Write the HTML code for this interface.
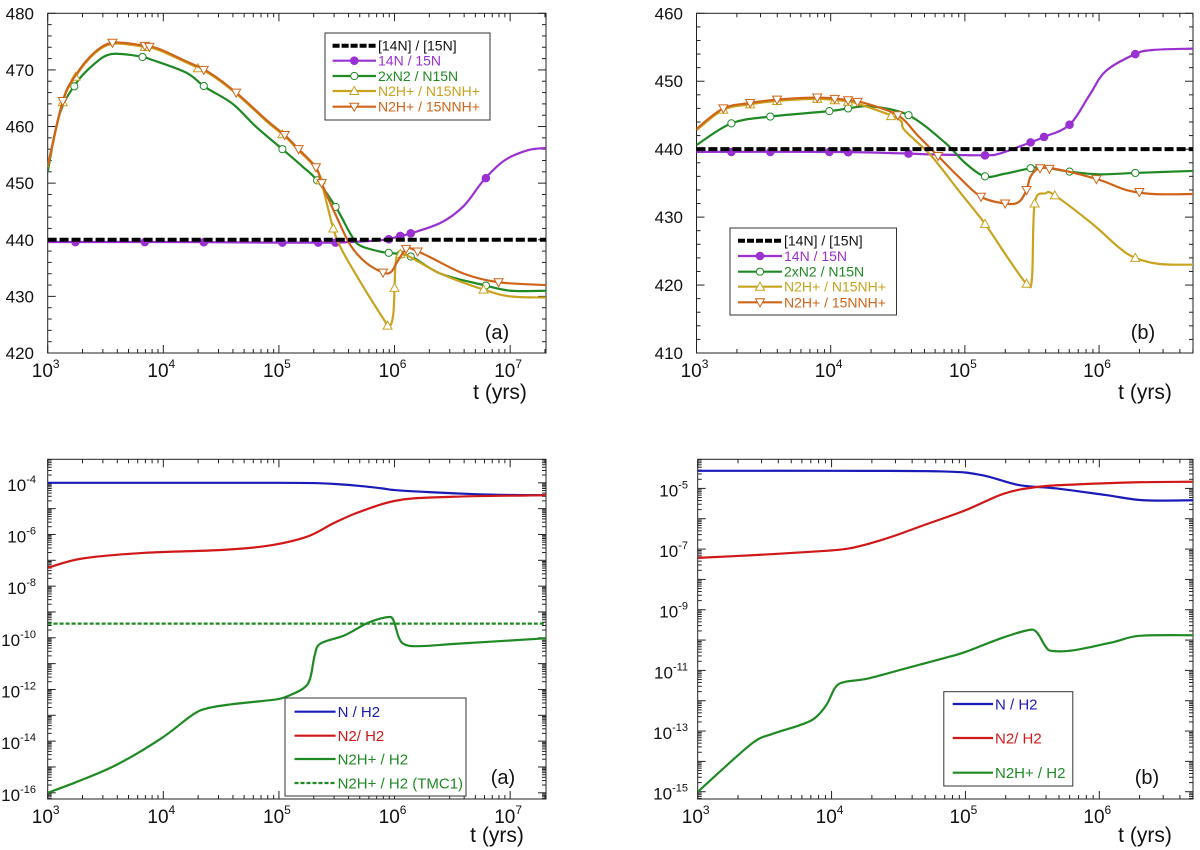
<!DOCTYPE html>
<html><head><meta charset="utf-8"><style>
html,body{margin:0;padding:0;background:#fff;}
svg{display:block;font-family:"Liberation Sans",Arial,sans-serif;}
</style></head><body>
<svg id="fig" width="1200" height="850" viewBox="0 0 1200 850" xmlns="http://www.w3.org/2000/svg"></svg>
<script>
// ---------- DATA (log10 t in years, values) ----------
// Panel a (top-left)
const aRefT=[3,7.31]; const aRefV=[440,440];
const aPurpleT=[3,4,5,5.3,5.5,5.8,5.95,6.03,6.12,6.4,6.6,6.77,6.95,7.15,7.31];
const aPurpleV=[439.6,439.6,439.5,439.5,439.5,439.8,440.1,440.6,441,443,446,450.5,454,455.8,456.2];
const aPurpleM=[3.24,3.84,4.35,5.03,5.34,5.49,5.95,6.05,6.14,6.79];
const aGreenT=[3,3.1,3.24,3.4,3.55,3.8,3.9,4.2,4.36,4.6,4.8,5.03,5.2,5.33,5.5,5.62,5.7,5.9,6.0,6.05,6.15,6.4,6.77,7.0,7.31];
const aGreenV=[452,462,467.5,471,472.8,472.4,471.8,469.5,467,464,460,456,453,450.5,445.5,441,439,437.8,437.6,437.4,437,434,432,431,431];
const aGreenM=[3.23,3.82,4.35,5.03,5.33,5.49,5.95,6.05,6.14,6.79];
const aOrangeT=[3,3.13,3.24,3.4,3.56,3.8,3.95,4.2,4.4,4.63,4.9,5.05,5.17,5.32,5.37,5.5,5.62,5.75,5.9,5.97,6.02,6.1,6.15,6.3,6.6,6.9,7.31];
const aOrangeV=[453,464.5,469,473,474.8,474.4,473.8,471.5,469.5,466,461,458.5,456,452.8,450,444,439,436,434.2,434.3,436,438.4,438.4,437,434,432.5,432];
const aOrangeM=[3.13,3.56,3.84,3.88,4.35,4.63,5.05,5.17,5.32,5.37,5.9,6.1,6.2,6.9];
const aYellowT=[3,3.13,3.24,3.4,3.56,3.8,3.95,4.2,4.4,4.63,4.9,5.05,5.17,5.32,5.37,5.47,5.55,5.75,5.92,5.95,5.99,6.01,6.05,6.13,6.4,6.77,7.0,7.31];
const aYellowV=[452.8,464.3,468.8,472.8,474.6,474.2,473.6,471.3,469.3,465.8,460.8,458.3,455.8,452.6,450,442,438,431,425.5,424.5,427,436,437.5,437,434,431.2,430,429.8];
const aYellowM=[3.13,3.24,3.84,4.3,5.03,5.36,5.47,5.94,6.0,6.05,6.77];
// Panel b (top-right)
const bRefT=[3,6.7]; const bRefV=[440,440];
const bPurpleT=[3,4,4.5,4.8,5.15,5.25,5.38,5.49,5.59,5.78,5.93,6.05,6.27,6.4,6.7];
const bPurpleV=[439.6,439.6,439.4,439.2,439.1,439.3,440.2,441,441.8,443.6,448,451.5,454,454.6,454.8];
const bPurpleM=[3.26,3.55,3.99,4.13,4.58,5.15,5.49,5.59,5.78,6.27];
const bGreenT=[3,3.26,3.55,3.99,4.13,4.3,4.58,4.85,5.0,5.15,5.3,5.49,5.59,5.78,6.0,6.27,6.7];
const bGreenV=[440.6,443.8,444.8,445.6,446,446.3,445,441,438,436,436.4,437.2,437.3,436.7,436.3,436.5,436.8];
const bGreenM=[3.26,3.55,3.99,4.13,4.58,5.15,5.49,5.78,6.27];
const bOrangeT=[3,3.2,3.4,3.6,3.9,4.1,4.25,4.5,4.65,4.8,4.95,5.12,5.3,5.4,5.46,5.49,5.56,5.7,6.0,6.2,6.4,6.7];
const bOrangeV=[443,446,446.8,447.3,447.6,447.3,446.8,445,442,439,436,433,432,432.2,434,436,437.2,437,435.5,434,433.4,433.4];
const bOrangeM=[3.2,3.4,3.6,3.9,4.03,4.13,4.2,4.5,4.8,5.12,5.3,5.46,5.56,5.63,5.98,6.3];
const bYellowT=[3,3.2,3.4,3.6,3.9,4.1,4.2,4.5,4.55,4.75,4.95,5.15,5.32,5.46,5.5,5.52,5.6,5.67,5.95,6.15,6.27,6.45,6.7];
const bYellowV=[442.8,445.8,446.6,447.1,447.4,447.1,446.7,444.5,442.8,439,434,429,424,420.2,421,432,433.5,433.2,429,425.5,424,423.1,423];
const bYellowM=[3.2,3.4,3.6,3.9,4.03,4.13,4.45,5.15,5.46,5.52,5.67,6.27];
// Panel c (bottom-left) log10 abundances
const cBlueT=[3,4,5,5.3,5.5,5.7,5.9,6.0,6.3,6.7,7.0,7.31];
const cBlueV=[-4,-4,-4,-4.01,-4.05,-4.12,-4.22,-4.28,-4.36,-4.44,-4.47,-4.48];
const cRedT=[3,3.3,3.84,4.5,4.9,5.24,5.47,5.7,6.04,6.5,7.31];
const cRedV=[-7.29,-6.93,-6.71,-6.6,-6.44,-6.09,-5.57,-5.12,-4.67,-4.54,-4.48];
const cGreenT=[3,3.25,3.59,3.98,4.25,4.38,4.58,4.91,5.04,5.21,5.27,5.31,5.36,5.57,5.77,5.94,5.99,6.04,6.1,6.24,6.57,7.31];
const cGreenV=[-16,-15.58,-14.93,-13.9,-12.99,-12.73,-12.58,-12.42,-12.32,-11.96,-11.57,-10.67,-10.22,-9.9,-9.42,-9.2,-9.32,-10.02,-10.28,-10.32,-10.22,-10.02];
const cTmcT=[3,7.31]; const cTmcV=[-9.45,-9.45];
// Panel d (bottom-right)
const dBlueT=[3,4,4.83,5.12,5.4,5.68,6.05,6.33,6.7];
const dBlueV=[-4.42,-4.42,-4.44,-4.56,-4.89,-5.0,-5.22,-5.39,-5.39];
const dRedT=[3,3.42,3.84,4.13,4.41,4.69,5.0,5.29,5.54,5.82,6.25,6.7];
const dRedV=[-7.29,-7.2,-7.09,-6.98,-6.65,-6.21,-5.72,-5.17,-4.95,-4.87,-4.8,-4.78];
const dGreenT=[3,3.19,3.42,3.56,3.76,3.87,3.96,4.03,4.1,4.27,4.55,4.83,5.0,5.26,5.46,5.53,5.6,5.65,5.82,6.11,6.3,6.7];
const dGreenV=[-15.01,-14.24,-13.36,-13.09,-12.81,-12.59,-12.15,-11.55,-11.38,-11.27,-10.94,-10.61,-10.39,-9.95,-9.68,-9.73,-10.22,-10.36,-10.33,-10.06,-9.86,-9.84];
// Tick labels
const xExpA=[3,4,5,6,7]; const xExpB=[3,4,5,6];
const yTicksA=[420,430,440,450,460,470,480];
const yTicksB=[410,420,430,440,450,460];
const yExpC=[-16,-14,-12,-10,-8,-6,-4];
const yExpD=[-15,-13,-11,-9,-7,-5];

// ---------- drawing ----------
const NS="http://www.w3.org/2000/svg";
const svg=document.getElementById('fig');
function el(tag,attrs,parent){const e=document.createElementNS(NS,tag);for(const k in attrs)e.setAttribute(k,attrs[k]);(parent||svg).appendChild(e);return e;}
const C={purple:'#9a30d2',green:'#1f8a24',yellow:'#c9a31f',orange:'#cf6418',blue:'#1a1ab8',red:'#d01818',black:'#000'};

function makePanel(p){
  p.sx=t=>p.x0+(t-p.t0)/(p.t1-p.t0)*(p.x1-p.x0);
  p.sy=v=>p.y1-(v-p.v0)/(p.v1-p.v0)*(p.y1-p.y0);
  const g=el('g',{});
  
  
  p.g=g;
  const cp=el('clipPath',{id:'clip-'+p.name},g);
  el('rect',{x:p.x0,y:p.y0,width:p.x1-p.x0,height:p.y1-p.y0},cp);
  const tk=el('g',{stroke:'#222','stroke-width':1},g);
  
  
  for(let d=Math.floor(p.t0);d<=p.t1;d++){
    for(let m=1;m<10;m++){
      const t=d+Math.log10(m); if(t<p.t0-1e-9||t>p.t1+1e-9)continue;
      const X=p.sx(t); const L=m===1?8:4;
      el('line',{x1:X,x2:X,y1:p.y1,y2:p.y1-L},tk);
      el('line',{x1:X,x2:X,y1:p.y0,y2:p.y0+L},tk);
    }
  }
  if(p.logy){
    for(let d=Math.floor(p.v0);d<=p.v1;d++){
      for(let m=1;m<10;m++){
        const v=d+Math.log10(m); if(v<p.v0||v>p.v1)continue;
        const Y=p.sy(v); const L=m===1?8:4;
        el('line',{x1:p.x0,x2:p.x0+L,y1:Y,y2:Y},tk);
        el('line',{x1:p.x1,x2:p.x1-L,y1:Y,y2:Y},tk);
      }
    }
  } else {
    for(let v=p.v0;v<=p.v1+1e-9;v+=2){
      const Y=p.sy(v); const L=(v%10===0)?8:4;
      el('line',{x1:p.x0,x2:p.x0+L,y1:Y,y2:Y},tk);
      el('line',{x1:p.x1,x2:p.x1-L,y1:Y,y2:Y},tk);
    }
  }
  const fr=el('rect',{x:p.x0,y:p.y0,width:p.x1-p.x0,height:p.y1-p.y0,fill:'none',stroke:'#222','stroke-width':1},g);
  
  
  p.xExp.forEach(e=>{
    const t=el('text',{x:p.sx(e)-2,y:p.y1+24,'font-size':19,'text-anchor':'middle',fill:'#111'},g);
    
    
    t.appendChild(document.createTextNode('10'));
    const s=el('tspan',{dy:-9,'font-size':12},t); s.textContent=String(e);
  });
  if(p.logy){
    p.yExp.forEach(e=>{
      const t=el('text',{x:p.ylabX,y:p.sy(e)+8,'font-size':17,'text-anchor':'end',fill:'#111'},g);
      
      
      t.appendChild(document.createTextNode('10'));
      const s=el('tspan',{dy:-8,'font-size':11},t); s.textContent=String(e);
    });
  } else {
    p.yTicks.forEach(v=>{
      const t=el('text',{x:p.ylabX,y:p.sy(v)+6,'font-size':17,'text-anchor':'end',fill:'#111'},g);
      
      
      t.textContent=String(v);
    });
  }
  const xt=el('text',{x:p.xtX,y:p.y1+p.xtDy,'font-size':21,'text-anchor':'middle',fill:'#111'},g);
  
  
  xt.textContent='t (yrs)';
  const pl=el('text',{x:p.plX,y:p.plY,'font-size':20,'text-anchor':'middle',fill:'#111'},g);
  
  
  pl.textContent=p.label;
  p.plot=el('g',{'clip-path':'url(#clip-'+p.name+')'},g);
  return p;
}

function pathD(pts){
  let d='M'+pts[0][0].toFixed(2)+','+pts[0][1].toFixed(2);
  for(let i=0;i<pts.length-1;i++){
    const p0=pts[i-1]||pts[i],p1=pts[i],p2=pts[i+1],p3=pts[i+2]||pts[i+1];
    const k=1/6;
    const c1=[p1[0]+(p2[0]-p0[0])*k,p1[1]+(p2[1]-p0[1])*k];
    const c2=[p2[0]-(p3[0]-p1[0])*k,p2[1]-(p3[1]-p1[1])*k];
    d+=' C'+c1.map(v=>v.toFixed(2)).join(',')+' '+c2.map(v=>v.toFixed(2)).join(',')+' '+p2[0].toFixed(2)+','+p2[1].toFixed(2);
  }
  return d;
}
function interp(T,V,t){
  for(let i=0;i<T.length-1;i++){if(t>=T[i]&&t<=T[i+1]){const f=(t-T[i])/(T[i+1]-T[i]);return V[i]+f*(V[i+1]-V[i]);}}
  return V[V.length-1];
}
function series(p,T,V,color,name,opts){
  opts=opts||{};
  const pts=T.map((t,i)=>[p.sx(t),p.sy(V[i])]);
  const path=el('path',{d:pathD(pts),fill:'none',stroke:color,'stroke-width':opts.w||2.2,'stroke-dasharray':opts.dash||'none'},p.plot);
  
  
  if(opts.marks){
    opts.marks.forEach(t=>{
      const x=p.sx(t),y=p.sy(interp(T,V,t));
      const m=marker(p.plot,opts.mk,x,y,color);
      
      
    });
  }
}
function marker(parent,type,x,y,color){
  if(type==='fc')return el('circle',{cx:x,cy:y,r:3.8,fill:color,stroke:color,'stroke-width':1},parent);
  if(type==='oc')return el('circle',{cx:x,cy:y,r:3.6,fill:'#fff',stroke:color,'stroke-width':1},parent);
  if(type==='ut')return el('polygon',{points:`${x},${y-4.5} ${x-4.5},${y+3.5} ${x+4.5},${y+3.5}`,fill:'#fff',stroke:color,'stroke-width':1},parent);
  return el('polygon',{points:`${x},${y+4.5} ${x-4.5},${y-3.5} ${x+4.5},${y-3.5}`,fill:'#fff',stroke:color,'stroke-width':1},parent);
}
function legend(p,box,items,fs){
  const g=el('g',{},p.g);
  
  
  el('rect',{x:box[0],y:box[1],width:box[2],height:box[3],fill:'#fff',stroke:'#333','stroke-width':1},g);
  items.forEach(it=>{
    const e=el('g',{},g);
    
    
    el('line',{x1:it.x1,x2:it.x2,y1:it.y,y2:it.y,stroke:it.c,'stroke-width':it.w||2.2,'stroke-dasharray':it.dash||'none'},e);
    if(it.mk)marker(e,it.mk,(it.x1+it.x2)/2,it.y,it.c);
    const t=el('text',{x:it.x2+2,y:it.y+fs*0.36,'font-size':fs,fill:it.tc||it.c},e);
    t.textContent=it.t;
  });
}

// Panel A
const A=makePanel({name:'panel-a-ratios',x0:47.7,x1:546,t0:3,t1:7.31,y0:13.3,y1:353,v0:420,v1:480,xExp:xExpA,yTicks:yTicksA,ylabX:34,xtX:500,xtDy:46,plX:497,plY:339,label:'(a)'});
series(A,aPurpleT,aPurpleV,C.purple,'purple-14n-15n',{mk:'fc',marks:aPurpleM});
series(A,aGreenT,aGreenV,C.green,'green-2xn2-n15n',{mk:'oc',marks:aGreenM});
series(A,aYellowT,aYellowV,C.yellow,'yellow-n2h-n15nh',{mk:'ut',marks:aYellowM});
series(A,aOrangeT,aOrangeV,C.orange,'orange-n2h-15nnh',{mk:'dt',marks:aOrangeM});
series(A,aRefT,aRefV,C.black,'reference-14n-15n',{w:4,dash:'9,3'});
{const lx1=332.6,lx2=376,ys=[45.7,60.7,76,91,106.7];
legend(A,[325,33,165,87],[
 {x1:lx1,x2:lx2,y:ys[0],c:C.black,w:4,dash:'7,2',t:'[14N] / [15N]',tc:'#111'},
 {x1:lx1,x2:lx2,y:ys[1],c:C.purple,mk:'fc',t:'14N / 15N'},
 {x1:lx1,x2:lx2,y:ys[2],c:C.green,mk:'oc',t:'2xN2 / N15N'},
 {x1:lx1,x2:lx2,y:ys[3],c:C.yellow,mk:'ut',t:'N2H+ / N15NH+'},
 {x1:lx1,x2:lx2,y:ys[4],c:C.orange,mk:'dt',t:'N2H+ / 15NNH+'}],14);}

// Panel B
const B=makePanel({name:'panel-b-ratios',x0:696.5,x1:1193,t0:3,t1:6.7,y0:13.3,y1:353,v0:410,v1:460,xExp:xExpB,yTicks:yTicksB,ylabX:683,xtX:1145,xtDy:46,plX:1143,plY:339,label:'(b)'});
series(B,bPurpleT,bPurpleV,C.purple,'purple-14n-15n',{mk:'fc',marks:bPurpleM});
series(B,bGreenT,bGreenV,C.green,'green-2xn2-n15n',{mk:'oc',marks:bGreenM});
series(B,bYellowT,bYellowV,C.yellow,'yellow-n2h-n15nh',{mk:'ut',marks:bYellowM});
series(B,bOrangeT,bOrangeV,C.orange,'orange-n2h-15nnh',{mk:'dt',marks:bOrangeM});
series(B,bRefT,bRefV,C.black,'reference-14n-15n',{w:4,dash:'9,3'});
{const lx1=738,lx2=782,ys=[240.7,256,271.7,286.7,302.3];
legend(B,[730,228,166.5,87],[
 {x1:lx1,x2:lx2,y:ys[0],c:C.black,w:4,dash:'7,2',t:'[14N] / [15N]',tc:'#111'},
 {x1:lx1,x2:lx2,y:ys[1],c:C.purple,mk:'fc',t:'14N / 15N'},
 {x1:lx1,x2:lx2,y:ys[2],c:C.green,mk:'oc',t:'2xN2 / N15N'},
 {x1:lx1,x2:lx2,y:ys[3],c:C.yellow,mk:'ut',t:'N2H+ / N15NH+'},
 {x1:lx1,x2:lx2,y:ys[4],c:C.orange,mk:'dt',t:'N2H+ / 15NNH+'}],14);}

// Panel C
const Cp=makePanel({name:'panel-a-abundances',x0:47.7,x1:546,t0:3,t1:7.31,y0:459.3,y1:799,v0:-16.24,v1:-3.09,logy:true,xExp:xExpA,yExp:yExpC,ylabX:36,xtX:497,xtDy:43,plX:503,plY:784,label:'(a)'});
series(Cp,cBlueT,cBlueV,C.blue,'n-h2-line');
series(Cp,cRedT,cRedV,C.red,'n2-h2-line');
series(Cp,cGreenT,cGreenV,C.green,'n2h-h2-line');
series(Cp,cTmcT,cTmcV,C.green,'n2h-h2-tmc1-line',{dash:'4,2'});
{const lx1=294.5,lx2=335.6;
legend(Cp,[285,698,181,98],[
 {x1:lx1,x2:lx2,y:711.7,c:C.blue,t:'N / H2'},
 {x1:lx1,x2:lx2,y:735.7,c:C.red,t:'N2/ H2'},
 {x1:lx1,x2:lx2,y:759,c:C.green,t:'N2H+ / H2'},
 {x1:lx1,x2:lx2,y:783,c:C.green,dash:'4,2',t:'N2H+ / H2 (TMC1)'}],15);}

// Panel D
const D=makePanel({name:'panel-b-abundances',x0:697.7,x1:1193,t0:3,t1:6.7,y0:459.3,y1:799,v0:-15.24,v1:-4.04,logy:true,xExp:xExpB,yExp:yExpD,ylabX:688,xtX:1145,xtDy:43,plX:1147,plY:784,label:'(b)'});
series(D,dBlueT,dBlueV,C.blue,'n-h2-line');
series(D,dRedT,dRedV,C.red,'n2-h2-line');
series(D,dGreenT,dGreenV,C.green,'n2h-h2-line');
{const lx1=952.7,lx2=993;
legend(D,[943.8,691.7,129,94.3],[
 {x1:lx1,x2:lx2,y:704,c:C.blue,t:'N / H2'},
 {x1:lx1,x2:lx2,y:738,c:C.red,t:'N2/ H2'},
 {x1:lx1,x2:lx2,y:772.7,c:C.green,t:'N2H+ / H2'}],15);}
</script>
</body></html>
